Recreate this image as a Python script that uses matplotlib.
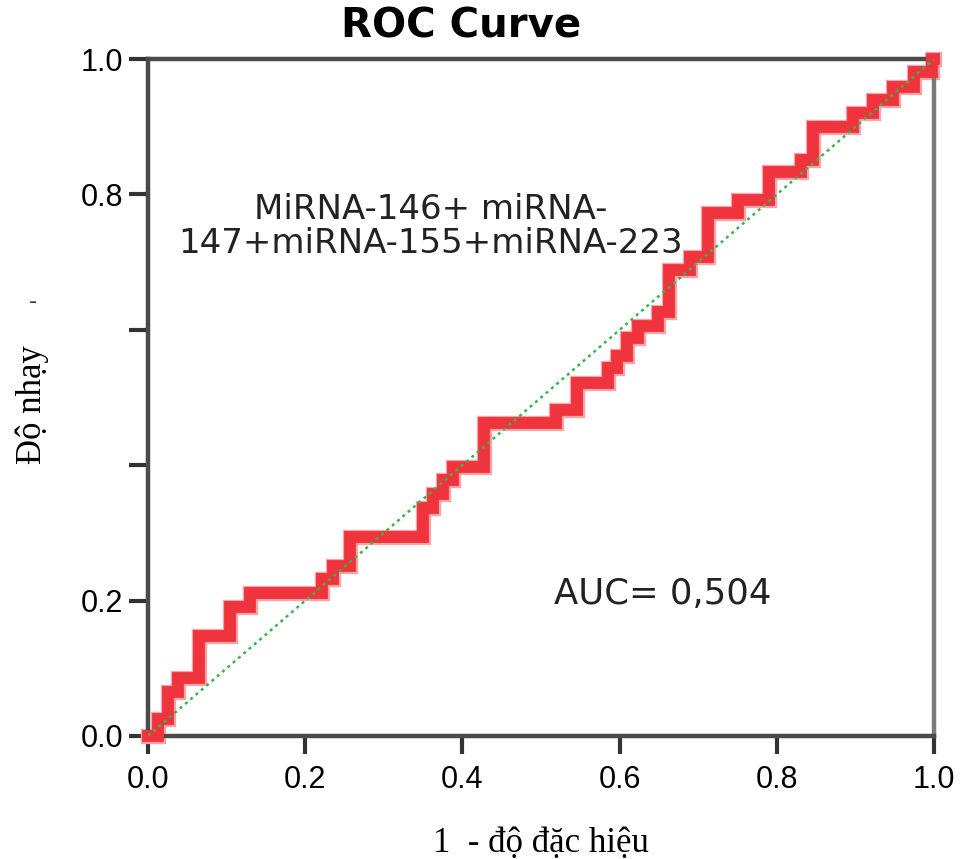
import matplotlib

matplotlib.use("Agg")
import matplotlib.pyplot as plt

# ROC points (corner after each rise)
fpr = [0.0, 0.013, 0.025, 0.038, 0.065, 0.104, 0.130, 0.221, 0.235, 0.257,
       0.350, 0.363, 0.375, 0.388, 0.427, 0.519, 0.546, 0.585, 0.597, 0.609,
       0.623, 0.649, 0.663, 0.690, 0.712, 0.751, 0.790, 0.831, 0.846, 0.897,
       0.922, 0.948, 0.975, 0.997, 1.0]
tpr = [0.0, 0.025, 0.065, 0.086, 0.148, 0.191, 0.211, 0.232, 0.251, 0.294,
       0.337, 0.357, 0.378, 0.397, 0.462, 0.482, 0.521, 0.544, 0.561, 0.588,
       0.606, 0.626, 0.688, 0.708, 0.773, 0.792, 0.833, 0.851, 0.900, 0.920,
       0.939, 0.959, 0.981, 1.0, 1.0]

ref_line = [0.0, 1.0]
x_ticks = [0.0, 0.2, 0.4, 0.6, 0.8, 1.0]
y_ticks = [0.0, 0.2, 0.4, 0.6, 0.8, 1.0]
y_tick_labels = ["0.0", "0.2", "", "", "0.8", "1.0"]

title = "ROC Curve"
x_label = "1  - độ đặc hiệu"
y_label = "Độ nhạy"
marker_text = "MiRNA-146+ miRNA-\n147+miRNA-155+miRNA-223"
auc_text = "AUC= 0,504"

fig = plt.figure(figsize=(9.64, 8.59), dpi=100)
ax = fig.add_axes([0.1535, 0.1432, 0.8155, 0.7881])

# soft pink halo under the thick red staircase
ax.plot(fpr, tpr, drawstyle="steps-post", color="#f7a3a8", lw=11,
        solid_joinstyle="miter", clip_on=False, zorder=2)
ax.plot(fpr, tpr, drawstyle="steps-post", color="#ef343e", lw=8.5,
        solid_joinstyle="miter", clip_on=False, zorder=3)
ax.plot(ref_line, ref_line, color="#37b54a", lw=1.8, ls=(0, (1.2, 1.6)),
        zorder=4)

ax.set_xlim(0, 1)
ax.set_ylim(0, 1)
ax.set_xticks(x_ticks)
ax.set_xticklabels([f"{v:.1f}" for v in x_ticks])
ax.set_yticks(y_ticks)
ax.set_yticklabels(y_tick_labels)

for lab in ax.get_xticklabels() + ax.get_yticklabels():
    lab.set_fontfamily("Liberation Sans")
    lab.set_fontsize(22)
ax.tick_params(axis="x", direction="out", length=13, width=3, color="#333333",
               pad=8)
ax.tick_params(axis="y", direction="out", length=14, width=3, color="#333333",
               pad=4)

for side, spine in ax.spines.items():
    spine.set_linewidth(3.2)
    spine.set_color("#4a4a4a")
ax.spines["right"].set_color("#7a7a7a")

fig.text(461 / 964, 1 - 27 / 859, title, fontsize=29, fontweight="bold",
         family="DejaVu Sans", ha="center", va="center")
fig.text(541 / 964, 1 - 843 / 859, x_label, family="Liberation Serif",
         fontsize=25, ha="center", va="center")
fig.text(32 / 964, 1 - 405 / 859, y_label, family="Liberation Serif",
         fontsize=25, ha="center", va="center", rotation=90)

ax.text(0.36, 0.753, marker_text, family="DejaVu Sans", fontsize=24.5,
        ha="center", va="center", linespacing=1.05, color="#222222")
ax.text(0.516, 0.21, auc_text, family="DejaVu Sans", fontsize=25.5,
        ha="left", va="center", color="#222222")

# small stray dash on the left edge
fig.text(33 / 964, 1 - 302 / 859, "-", family="DejaVu Sans", fontsize=16,
         ha="center", va="center", color="#333333")

fig.savefig("out.png", dpi=100)
plt.close(fig)
